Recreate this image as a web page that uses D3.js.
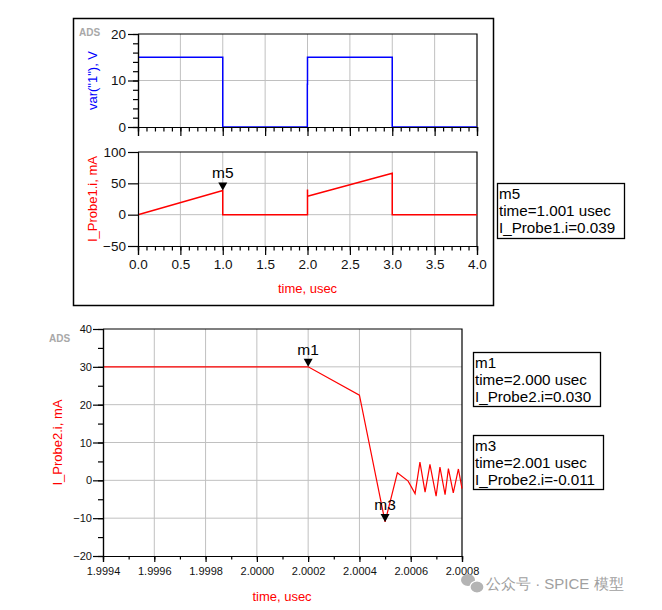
<!DOCTYPE html>
<html><head><meta charset="utf-8">
<script src="https://cdn.jsdelivr.net/npm/d3@7"></script>
<style>
body{margin:0;background:#fff}
svg{display:block}
text{font-family:Arial,"Liberation Sans",sans-serif}
</style></head>
<body><svg id="c" width="662" height="610"></svg>
<script>
// ---------- DATA ----------
// Top panel, plot 1: var("1"), V
const v1Time = [0, 1.0, 1.0, 1.998, 1.998, 2.0, 2.0, 3.0, 3.0, 4.0];
const v1Val  = [15, 15, 0, 0, 9.2, 9.2, 15, 15, 0, 0];
// Top panel, plot 2: I_Probe1.i, mA
const i1Time = [0, 1.0, 1.0, 2.0, 2.0, 2.0, 2.25, 2.5, 2.75, 3.0, 3.0, 4.0];
const i1Val  = [0, 38.7, 0, 0, 40, 29.5, 38.5, 47.8, 57, 66, 0, 0];
// Bottom: I_Probe2.i, mA
const i2Time = [1.9994, 2.0002, 2.0004, 2.0005, 2.000548, 2.00059, 2.000617, 2.000636, 2.000656,
                2.000675, 2.000699, 2.000714, 2.000734, 2.000747, 2.000766, 2.000786, 2.0008];
const i2Val  = [30, 30, 22.5, -11, 2.0, -0.2, -3.5, 4.8, -3.1, 4.2, -4.2, 3.5, -3.8, 3.1, -3.3, 3.0, -2.2];

// tick labels
const topXTicks = [0, 0.5, 1.0, 1.5, 2.0, 2.5, 3.0, 3.5, 4.0];
const v1YTicks = [0, 10, 20];
const i1YTicks = [-50, 0, 50, 100];
const botXTicks = [1.9994, 1.9996, 1.9998, 2.0000, 2.0002, 2.0004, 2.0006, 2.0008];
const botYTicks = [-20, -10, 0, 10, 20, 30, 40];

// markers
const markers = [
  {name: "m5", plot: "i1", t: 1.0, v: 38.7, lines: ["m5", "time=1.001 usec", "I_Probe1.i=0.039"]},
  {name: "m1", plot: "i2", t: 2.0002, v: 30, lines: ["m1", "time=2.000 usec", "I_Probe2.i=0.030"]},
  {name: "m3", plot: "i2", t: 2.0005, v: -11, lines: ["m3", "time=2.001 usec", "I_Probe2.i=-0.011"]}
];

// ---------- DRAW ----------
const svg = d3.select("#c");
svg.append("rect").attr("width", 662).attr("height", 610).attr("fill", "#fff");

const GRID = "#c0c0c0";
const AX = 1.2;

// top frame
svg.append("rect").attr("x", 73.5).attr("y", 18.5).attr("width", 420).attr("height", 287)
  .attr("fill", "none").attr("stroke", "#000").attr("stroke-width", 1.5);

const xT = d3.scaleLinear().domain([0, 4]).range([138, 477]);
const yV = d3.scaleLinear().domain([0, 20]).range([127, 34]);
const yI = d3.scaleLinear().domain([-50, 100]).range([246, 152]);

const xB = d3.scaleLinear().domain([1.9994, 2.0008]).range([103, 462]);
const yB = d3.scaleLinear().domain([-20, 40]).range([556, 329]);

function grid(g, x, y, xs, ys) {
  g.selectAll(".gx").data(xs).join("line")
    .attr("x1", d => x(d)).attr("x2", d => x(d))
    .attr("y1", y.range()[0]).attr("y2", y.range()[1])
    .attr("stroke", GRID).attr("stroke-width", 1);
  g.selectAll(".gy").data(ys).join("line").attr("class", "gy2")
    .attr("y1", d => y(d)).attr("y2", d => y(d))
    .attr("x1", x.range()[0]).attr("x2", x.range()[1])
    .attr("stroke", GRID).attr("stroke-width", 1);
}
function frame(g, x, y) {
  const [x0, x1] = x.range(), [y0, y1] = y.range();
  g.append("path").attr("d", `M${x0},${y1}H${x1}V${y0}`)
    .attr("fill", "none").attr("stroke", "#000").attr("stroke-width", AX);
}
function styleAxis(sel, fs) {
  sel.selectAll("path.domain").attr("stroke", "#000").attr("stroke-width", AX);
  sel.selectAll(".tick line").attr("stroke", "#000").attr("stroke-width", AX);
  sel.selectAll("text").attr("fill", "#111").attr("font-size", fs)
    .attr("font-family", "Arial, 'Liberation Sans', sans-serif");
}

// ---- plot 1 ----
const g1 = svg.append("g");
grid(g1, xT, yV, topXTicks.slice(1, -1), [10]);
frame(g1, xT, yV);
g1.append("path").datum(v1Time.map((t, i) => [t, v1Val[i]]))
  .attr("d", d3.line().x(d => xT(d[0])).y(d => yV(d[1])))
  .attr("fill", "none").attr("stroke", "#0000ff").attr("stroke-width", 1.5);
// axes
let a;
a = g1.append("g").attr("transform", `translate(0,${yV(0)})`)
  .call(d3.axisBottom(xT).tickValues(d3.range(0, 4.001, 0.1)).tickSize(4.5).tickFormat(""));
styleAxis(a, 13);
a = g1.append("g").attr("transform", `translate(0,${yV(0)})`)
  .call(d3.axisBottom(xT).tickValues(topXTicks).tickSize(9).tickFormat(""));
styleAxis(a, 13);
a = g1.append("g").attr("transform", `translate(${xT(0)},0)`)
  .call(d3.axisLeft(yV).tickValues(d3.range(0, 20.01, 2)).tickSize(5).tickFormat(""));
styleAxis(a, 13);
a = g1.append("g").attr("transform", `translate(${xT(0)},0)`)
  .call(d3.axisLeft(yV).tickValues(v1YTicks).tickSize(10).tickPadding(2).tickFormat(d3.format("d")));
styleAxis(a, 13.5);
svg.append("text").attr("transform", `translate(97,${(yV(20) + yV(0)) / 2}) rotate(-90)`)
  .attr("text-anchor", "middle").attr("fill", "#0000ff").attr("font-size", 13)
  .text('var("1"), V');

// ---- plot 2 ----
const g2 = svg.append("g");
grid(g2, xT, yI, topXTicks.slice(1, -1), [0, 50]);
frame(g2, xT, yI);
g2.append("path").datum(i1Time.map((t, i) => [t, i1Val[i]]))
  .attr("d", d3.line().x(d => xT(d[0])).y(d => yI(d[1])))
  .attr("fill", "none").attr("stroke", "#ff0000").attr("stroke-width", 1.5);
a = g2.append("g").attr("transform", `translate(0,${yI(-50)})`)
  .call(d3.axisBottom(xT).tickValues(d3.range(0, 4.001, 0.1)).tickSize(4.5).tickFormat(""));
styleAxis(a, 13);
a = g2.append("g").attr("transform", `translate(0,${yI(-50)})`)
  .call(d3.axisBottom(xT).tickValues(topXTicks).tickSize(9).tickPadding(4).tickFormat(d3.format(".1f")));
styleAxis(a, 13.5);
a = g2.append("g").attr("transform", `translate(${xT(0)},0)`)
  .call(d3.axisLeft(yI).tickValues(i1YTicks).tickSize(10).tickPadding(2).tickFormat(d3.format("d")));
styleAxis(a, 13.5);
svg.append("text").attr("transform", `translate(97,${(yI(100) + yI(-50)) / 2}) rotate(-90)`)
  .attr("text-anchor", "middle").attr("fill", "#ff0000").attr("font-size", 13)
  .text("I_Probe1.i, mA");
svg.append("text").attr("x", (xT(0) + xT(4)) / 2).attr("y", 293)
  .attr("text-anchor", "middle").attr("fill", "#ff0000").attr("font-size", 13).text("time, usec");
svg.append("text").attr("x", 79).attr("y", 36).attr("fill", "#a8a8a8")
  .attr("font-size", 10).attr("font-weight", "bold").text("ADS");

// ---- bottom plot ----
const g3 = svg.append("g");
grid(g3, xB, yB, botXTicks.slice(1, -1), botYTicks.slice(1, -1));
frame(g3, xB, yB);
g3.append("path").datum(i2Time.map((t, i) => [t, i2Val[i]]))
  .attr("d", d3.line().x(d => xB(d[0])).y(d => yB(d[1])))
  .attr("fill", "none").attr("stroke", "#ff0000").attr("stroke-width", 1.2);
a = g3.append("g").attr("transform", `translate(0,${yB(-20)})`)
  .call(d3.axisBottom(xB).tickValues(d3.range(0, 15).map(k => 1.9994 + k * 0.0001)).tickSize(3.5).tickFormat(""));
styleAxis(a, 11);
a = g3.append("g").attr("transform", `translate(0,${yB(-20)})`)
  .call(d3.axisBottom(xB).tickValues(botXTicks).tickSize(6).tickPadding(5).tickFormat(d3.format(".4f")));
styleAxis(a, 11);
a = g3.append("g").attr("transform", `translate(${xB.range()[0]},0)`)
  .call(d3.axisLeft(yB).tickValues(d3.range(-20, 40.01, 5)).tickSize(5).tickFormat(""));
styleAxis(a, 11);
a = g3.append("g").attr("transform", `translate(${xB.range()[0]},0)`)
  .call(d3.axisLeft(yB).tickValues(botYTicks).tickSize(10).tickPadding(1).tickFormat(d3.format("d")));
styleAxis(a, 11);
svg.append("text").attr("transform", `translate(62,${(yB(40) + yB(-20)) / 2}) rotate(-90)`)
  .attr("text-anchor", "middle").attr("fill", "#ff0000").attr("font-size", 13)
  .text("I_Probe2.i, mA");
svg.append("text").attr("x", 282).attr("y", 601)
  .attr("text-anchor", "middle").attr("fill", "#ff0000").attr("font-size", 13).text("time, usec");
svg.append("text").attr("x", 49).attr("y", 342).attr("fill", "#a8a8a8")
  .attr("font-size", 10).attr("font-weight", "bold").text("ADS");

// ---- markers ----
const mx = {i1: [xT, yI], i2: [xB, yB]};
markers.forEach(m => {
  const [sx, sy] = mx[m.plot];
  const px = sx(m.t), py = sy(m.v);
  svg.append("path").attr("d", `M${px - 4.5},${py - 8}H${px + 4.5}L${px},${py}Z`).attr("fill", "#000");
  svg.append("text").attr("x", px).attr("y", py - 12).attr("text-anchor", "middle")
    .attr("font-size", 15.5).attr("fill", "#000").text(m.name);
});
const boxes = [
  {m: markers[0], x: 497, y: 183, w: 127, h: 55},
  {m: markers[1], x: 473, y: 352, w: 127, h: 54},
  {m: markers[2], x: 473, y: 435, w: 130, h: 54}
];
boxes.forEach(b => {
  svg.append("rect").attr("x", b.x + 0.5).attr("y", b.y + 0.5).attr("width", b.w).attr("height", b.h)
    .attr("fill", "#fff").attr("stroke", "#000").attr("stroke-width", 1.3);
  b.m.lines.forEach((l, i) => {
    svg.append("text").attr("x", b.x + 2).attr("y", b.y + 16 + i * 17)
      .attr("font-size", 15.2).attr("fill", "#000").text(l);
  });
});

// ---- watermark ----
const wm = svg.append("g").attr("fill", "#b4b4b4");
wm.append("ellipse").attr("cx", 468).attr("cy", 580).attr("rx", 7).attr("ry", 6);
wm.append("ellipse").attr("cx", 477).attr("cy", 587).attr("rx", 7).attr("ry", 6).attr("stroke", "#fff").attr("stroke-width", 1.2);
svg.append("text").attr("x", 486).attr("y", 589).attr("fill", "#a0a0a0")
  .attr("font-family", "'Noto Sans CJK SC', sans-serif").attr("font-size", 15)
  .text("公众号 · SPICE 模型");
</script></body></html>
